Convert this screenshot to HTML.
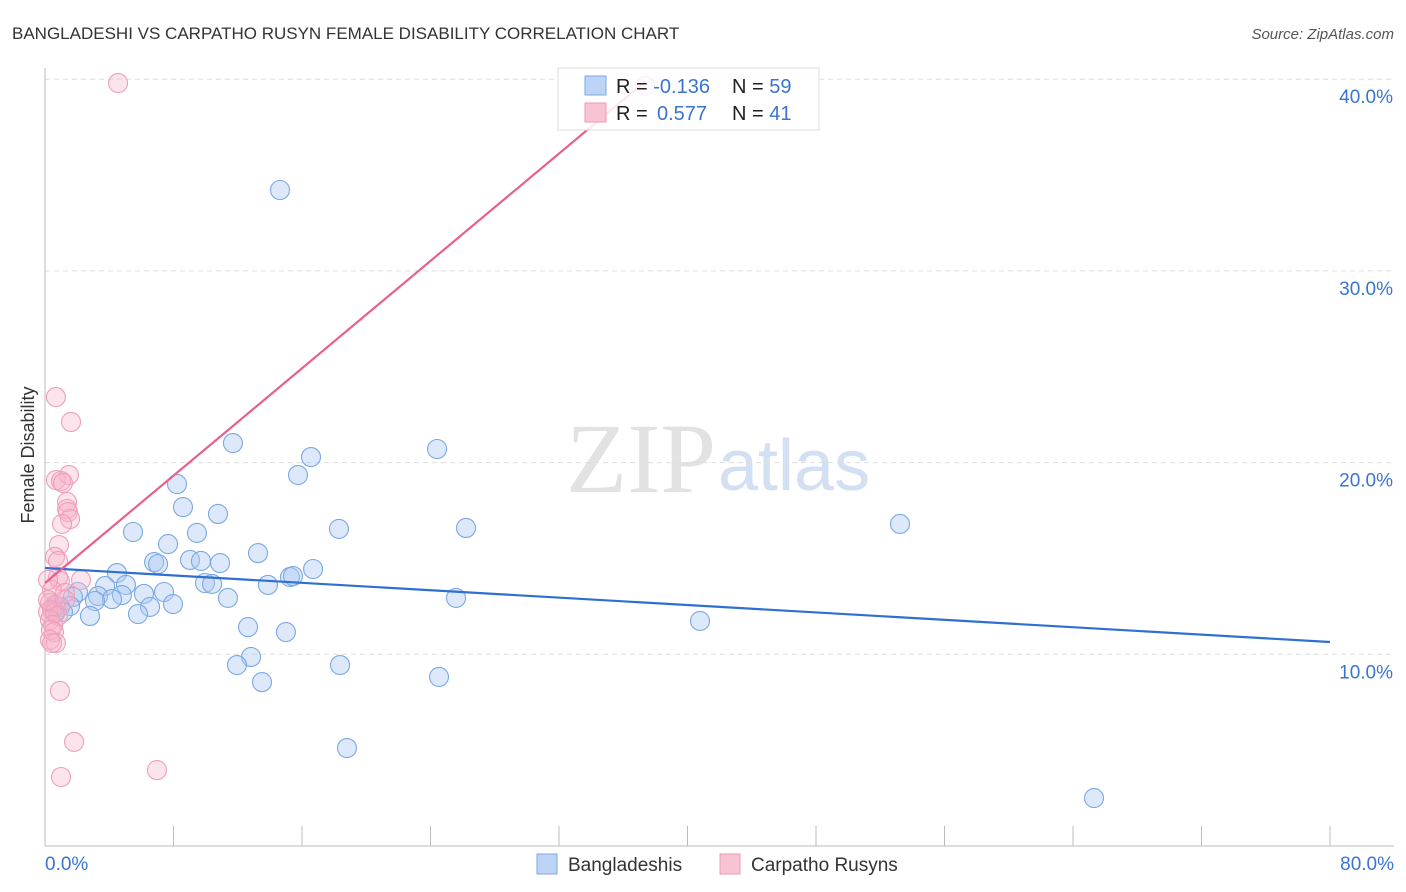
<!DOCTYPE html>
<html><head><meta charset="utf-8"><style>
body{margin:0;background:#fff;font-family:"Liberation Sans",sans-serif}
svg{display:block}
</style></head><body>
<svg width="1406" height="892" xmlns="http://www.w3.org/2000/svg">
<text x="12" y="39" font-size="17" fill="#333">BANGLADESHI VS CARPATHO RUSYN FEMALE DISABILITY CORRELATION CHART</text>
<text x="1394" y="39" font-size="15" fill="#555" font-style="italic" text-anchor="end">Source: ZipAtlas.com</text>
<text x="716" y="492" font-size="100" fill="#e2e2e2" text-anchor="end" font-family="Liberation Serif">ZIP</text>
<text x="718" y="490" font-size="72" fill="#d3e0f3">atlas</text>
<g id="grid"></g><g id="axes"></g><g id="pts"></g><g id="lines"></g>
<text transform="translate(34,455) rotate(-90)" font-size="18" fill="#333" text-anchor="middle">Female Disability</text>
<g>
<rect x="558" y="68" width="261" height="62" fill="#fff" fill-opacity="0.85" stroke="#ddd"/>
<rect x="585" y="76" width="21" height="19" fill="#bcd4f5" stroke="#7fa8e0"/>
<rect x="585" y="103" width="21" height="19" fill="#f8c3d3" stroke="#ec9ab6"/>
<text x="616" y="93" font-size="20" fill="#222">R = <tspan fill="#3a74d0">-0.136</tspan></text>
<text x="732" y="93" font-size="20" fill="#222">N = <tspan fill="#3a74d0">59</tspan></text>
<text x="616" y="120" font-size="20" fill="#222">R = <tspan fill="#3a74d0" x="657">0.577</tspan></text>
<text x="732" y="120" font-size="20" fill="#222">N = <tspan fill="#3a74d0">41</tspan></text>
</g>
<g>
<rect x="537" y="854" width="20" height="20" fill="#bcd4f5" stroke="#7fa8e0"/>
<text x="568" y="871" font-size="19" fill="#333">Bangladeshis</text>
<rect x="720" y="854" width="20" height="20" fill="#f8c3d3" stroke="#ec9ab6"/>
<text x="751" y="871" font-size="19" fill="#333">Carpatho Rusyns</text>
</g>
</svg>
<script>
const blueX=[14.63,11.70,16.56,24.41,15.75,8.22,8.59,10.77,5.48,9.46,26.21,18.30,53.23,7.66,13.26,6.79,7.04,9.03,9.71,10.90,16.69,4.48,15.25,15.44,9.96,10.40,13.88,5.04,3.74,7.41,6.16,2.05,1.74,3.30,4.79,4.17,3.11,11.39,25.59,6.54,7.97,1.56,0.68,0.93,5.79,2.80,12.64,15.00,40.78,12.83,11.95,18.37,24.53,13.51,18.80,65.31,1.12,0.62,0.44];
const blueY=[34.22,21.02,20.29,20.71,19.35,18.88,17.68,17.32,16.38,16.33,16.59,16.54,16.80,15.75,15.28,14.81,14.71,14.92,14.87,14.76,14.45,14.24,14.03,14.08,13.72,13.67,13.62,13.62,13.56,13.25,13.15,13.25,12.99,13.04,13.09,12.88,12.78,12.94,12.94,12.47,12.62,12.52,12.52,12.47,12.10,12.00,11.42,11.16,11.74,9.86,9.44,9.44,8.82,8.55,5.11,2.50,12.21,12.15,12.31];
const pinkX=[4.55,37.36,0.68,1.62,1.49,0.68,1.00,1.12,1.37,1.37,1.43,1.56,1.06,0.87,0.62,0.81,2.24,0.81,0.93,0.44,1.25,0.31,0.62,0.44,0.19,0.62,0.81,0.31,0.50,0.37,0.56,0.31,0.68,0.44,0.93,1.81,1.00,6.97,0.19,0.19,1.25];
const pinkY=[39.80,39.65,23.42,22.12,19.35,19.09,19.04,18.94,17.94,17.58,17.42,17.06,16.80,15.70,15.08,14.87,13.88,14.03,13.82,13.35,13.20,12.68,12.57,12.31,12.21,12.21,12.00,11.79,11.53,11.27,11.16,10.75,10.59,10.59,8.09,5.43,3.60,3.96,12.83,13.88,12.83];
const blueTrend=[14.5,10.64]; // y at x=0, x=80
const pinkTrend=[13.72,0.70]; // intercept, slope
const yTicks=[10,20,30,40];
const xTickLabels=["0.0%","80.0%"];
const NS="http://www.w3.org/2000/svg";
const X=v=>45+v*1285/80, Y=v=>846-v*19.17;
function mk(p,t,a){const e=document.createElementNS(NS,t);for(const k in a)e.setAttribute(k,a[k]);document.getElementById(p).appendChild(e);return e;}
yTicks.forEach(t=>{
 const l=mk('grid','line',{x1:45,x2:1394,y1:Y(t),y2:Y(t),stroke:'#ddd','stroke-dasharray':'5,4'});
 
 
 const tx=mk('grid','text',{x:1393,y:Y(t)+24,'font-size':19,fill:'#3a74d0','text-anchor':'end'});
 tx.textContent=t.toFixed(1)+'%';
 
 
});
let a=mk('axes','line',{x1:45,x2:45,y1:68,y2:846,stroke:'#bbb'});


a=mk('axes','line',{x1:45,x2:1394,y1:846,y2:846,stroke:'#bbb'});


for(let i=0;i<=10;i++){const t=mk('axes','line',{x1:X(i*8),x2:X(i*8),y1:826,y2:846,stroke:'#bbb'});
 
 }
[[0,'start',45],[80,'end',1394]].forEach((d,i)=>{const t=mk('axes','text',{x:d[2],y:870,'font-size':19,fill:'#3a74d0','text-anchor':d[1]});t.textContent=xTickLabels[i];
 
 });
blueX.forEach((v,i)=>{const c=mk('pts','circle',{cx:X(v),cy:Y(blueY[i]),r:9.5,fill:'rgba(170,200,242,0.4)',stroke:'#7aa8e4','stroke-width':1.1});
 
 });
pinkX.forEach((v,i)=>{const c=mk('pts','circle',{cx:X(v),cy:Y(pinkY[i]),r:9.5,fill:'rgba(247,178,200,0.35)',stroke:'#ee9fba','stroke-width':1.1});
 
 });
let l=mk('lines','line',{x1:X(0),y1:Y(blueTrend[0]),x2:X(80),y2:Y(blueTrend[1]),stroke:'#2f6fd0','stroke-width':2.2});


const px2=37.36;
l=mk('lines','line',{x1:X(0),y1:Y(pinkTrend[0]),x2:X(px2),y2:Y(pinkTrend[0]+pinkTrend[1]*px2),stroke:'#e8608e','stroke-width':2.2});


</script>
</body></html>
